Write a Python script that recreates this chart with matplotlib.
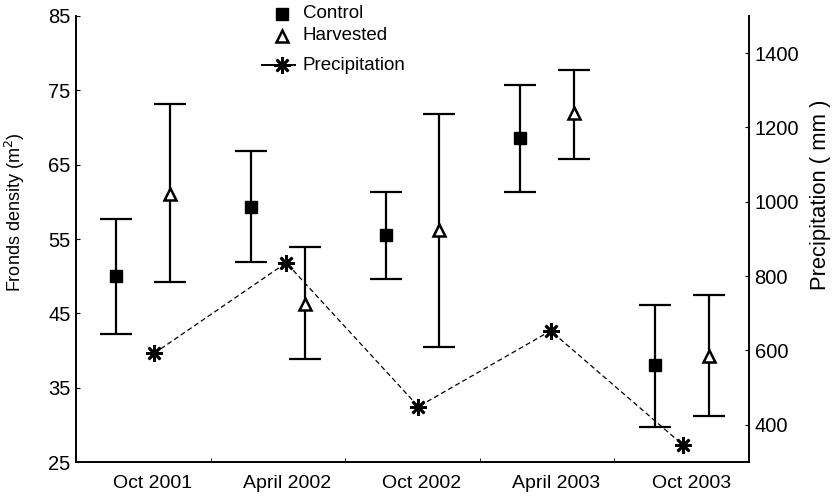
import matplotlib
matplotlib.use("Agg")
import matplotlib.pyplot as plt
from matplotlib.lines import Line2D
from matplotlib.transforms import Affine2D
import numpy as np

plt.rcParams['font.family'] = ['Liberation Sans', 'DejaVu Sans']

periods = ["Oct 2001", "April 2002", "Oct 2002", "April 2003", "Oct 2003"]
control_mean = [50.0, 59.3, 55.5, 68.6, 38.0]
control_upper = [57.7, 66.8, 61.3, 75.7, 46.1]
control_lower = [42.2, 51.9, 49.6, 61.3, 29.7]
harvested_mean = [61.1, 46.3, 56.2, 71.9, 39.2]
harvested_upper = [73.1, 53.9, 71.8, 77.8, 47.4]
harvested_lower = [49.2, 38.8, 40.5, 65.7, 31.2]
precipitation = [592, 836, 449, 653, 346]
legend_labels = ["Control", "Harvested", "Precipitation"]

W, H = 833, 498
fig = plt.figure(figsize=(W / 100, H / 100), dpi=100)
ax = fig.add_axes([76 / W, 36 / H, 673 / W, 446 / H])

idx = np.arange(len(periods))
cm = np.array(control_mean)
hm = np.array(harvested_mean)
c_err = [cm - np.array(control_lower), np.array(control_upper) - cm]
h_err = [hm - np.array(harvested_lower), np.array(harvested_upper) - hm]

sq_kw = dict(marker='s', color='black', ms=8.5)
tri_kw = dict(marker='^', mfc='white', mec='black', mew=1.8, ms=8)
star_kw = dict(marker=(8, 2, 0), color='black', ms=12, mew=1.9)

ax.errorbar(idx + 0.3, cm, yerr=c_err, fmt='none', ecolor='black',
            elinewidth=1.6, capsize=11.5, capthick=1.6, zorder=3)
ax.plot(idx + 0.3, cm, ls='none', zorder=4, **sq_kw)
ax.errorbar(idx + 0.7, hm, yerr=h_err, fmt='none', ecolor='black',
            elinewidth=1.6, capsize=11.5, capthick=1.6, zorder=3)
ax.plot(idx + 0.7, hm, ls='none', zorder=4, **tri_kw)

ax.set_xlim(0, 5)
ax.set_ylim(25, 85)
ax.set_yticks(np.arange(25, 86, 10))
ax.set_xticks(idx + 0.57)
ax.set_xticklabels(periods)
ax.set_xticks([1, 2, 3, 4], minor=True)
ax.tick_params(axis='x', which='major', length=0, labelsize=14, pad=9)
ax.tick_params(axis='x', which='minor', direction='in', length=3)
ax.tick_params(axis='y', direction='in', length=3, labelsize=14.5, pad=4)
ax.set_ylabel("Fronds density (m$^2$)", fontsize=13)
ax.yaxis.set_label_coords(-0.073, 0.56)
ax.spines['top'].set_visible(False)
for s in ['left', 'bottom', 'right']:
    ax.spines[s].set_linewidth(1.2)

ax2 = ax.twinx()
ax3 = ax2.twiny()
ax3.plot(idx + 0.5, precipitation, linestyle=(0, (4, 2.5)), color='black',
         lw=0.9, zorder=4)
ax3.plot(idx + 0.5, precipitation, ls='none', zorder=5, **star_kw)
ax3.set_xlim(-0.09, 5.0)
ax3.set_xticks([])
for s in ax3.spines.values():
    s.set_visible(False)
ax2.set_ylim(300, 1500)
ax3.set_ylim(300, 1500)
ax2.set_yticks(np.arange(400, 1401, 200))
ax2.tick_params(axis='y', direction='in', length=3, labelsize=14.5, pad=4)
ax2.set_ylabel("Precipitation ( mm )", fontsize=15.8)
ax2.yaxis.set_label_coords(1.090, 0.60)
ax2.spines['top'].set_visible(False)
for s in ['left', 'bottom', 'right']:
    ax2.spines[s].set_linewidth(1.2)

# manual legend (figure pixel coordinates, origin at top-left)
to_fig = Affine2D().scale(1 / W, -1 / H).translate(0, 1) + fig.transFigure
rows_y = [14, 36, 65]
fig.add_artist(Line2D([282], [rows_y[0]], transform=to_fig, ls='none', **sq_kw))
fig.add_artist(Line2D([282], [rows_y[1]], transform=to_fig, ls='none', **tri_kw))
fig.add_artist(Line2D([262, 295], [rows_y[2], rows_y[2]], transform=to_fig,
                      ls='-', lw=1.4, color='black'))
fig.add_artist(Line2D([282], [rows_y[2]], transform=to_fig, ls='none', **star_kw))
for lab, y in zip(legend_labels, rows_y):
    fig.text(303, y, lab, transform=to_fig, fontsize=13.5, va='center', ha='left')

fig.savefig("out.png", dpi=100)
